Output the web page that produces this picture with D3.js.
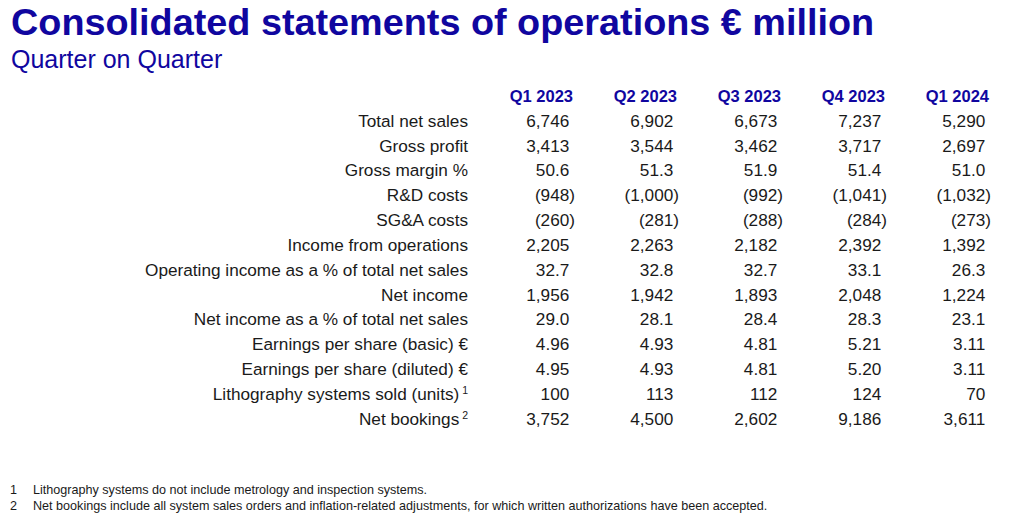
<!DOCTYPE html>
<html>
<head>
<meta charset="utf-8">
<script src="https://cdn.jsdelivr.net/npm/d3@7"></script>
<style>
  body { margin: 0; background: #fff; }
  svg { display: block; font-family: "Liberation Sans", Arial, sans-serif; }
  .title { fill: #10069f; font-weight: bold; font-size: 37.8px; }
  .subtitle { fill: #10069f; font-size: 25px; }
  .head { fill: #10069f; font-weight: bold; font-size: 16.5px; }
  .label, .val { fill: #1a1a1a; font-size: 17.2px; }
  .note { fill: #1a1a1a; font-size: 12.6px; font-family: "Liberation Sans Narrow", "Arial Narrow", sans-serif; }
</style>
</head>
<body>
<svg id="chart" width="1024" height="523"></svg>
<script>
// quarters shown as columns
const quarters = ["Q1 2023", "Q2 2023", "Q3 2023", "Q4 2023", "Q1 2024"];

// row labels, with footnote marks where the slide has them
const rowLabels = [
    "Total net sales",
    "Gross profit",
    "Gross margin %",
    "R&D costs",
    "SG&A costs",
    "Income from operations",
    "Operating income as a % of total net sales",
    "Net income",
    "Net income as a % of total net sales",
    "Earnings per share (basic) €",
    "Earnings per share (diluted) €",
    "Lithography systems sold (units)",
    "Net bookings"
];
const rowNotes = ["", "", "", "", "", "", "", "", "", "", "", "1", "2"];
const rowDecimals = [0, 0, 1, 0, 0, 0, 1, 0, 1, 2, 2, 0, 0];

// one array per quarter, in row order
const q1_2023 = [6746, 3413, 50.6, -948, -260, 2205, 32.7, 1956, 29.0, 4.96, 4.95, 100, 3752];
const q2_2023 = [6902, 3544, 51.3, -1000, -281, 2263, 32.8, 1942, 28.1, 4.93, 4.93, 113, 4500];
const q3_2023 = [6673, 3462, 51.9, -992, -288, 2182, 32.7, 1893, 28.4, 4.81, 4.81, 112, 2602];
const q4_2023 = [7237, 3717, 51.4, -1041, -284, 2392, 33.1, 2048, 28.3, 5.21, 5.20, 124, 9186];
const q1_2024 = [5290, 2697, 51.0, -1032, -273, 1392, 26.3, 1224, 23.1, 3.11, 3.11, 70, 3611];
const quarterValues = [q1_2023, q2_2023, q3_2023, q4_2023, q1_2024];

const footnotes = [
    ["1", "Lithography systems do not include metrology and inspection systems."],
    ["2", "Net bookings include all system sales orders and inflation-related adjustments, for which written authorizations have been accepted."]
];

const svg = d3.select("#chart");

svg.append("text").attr("class", "title")
    .attr("x", 11).attr("y", 35)
    .text("Consolidated statements of operations € million");
svg.append("text").attr("class", "subtitle")
    .attr("x", 11).attr("y", 68)
    .text("Quarter on Quarter");

// columns: right edge of each band is where the closing paren ends
let x = d3.scaleBand()
    .domain(quarters)
    .range([471, 991]);

// rows: header plus data rows
let y = d3.scaleBand()
    .domain(["header"].concat(rowLabels))
    .range([83.5, 431]);

const parenW = 5.7;
const labelRight = 468;

svg.selectAll(".head")
    .data(quarters)
    .enter()
    .append("text")
    .attr("class", "head")
    .attr("x", d => x(d) + x.bandwidth() - 2)
    .attr("y", y("header") + y.bandwidth() / 2)
    .attr("dy", "0.35em")
    .attr("text-anchor", "end")
    .text(d => d);

let labels = svg.selectAll(".label")
    .data(rowLabels)
    .enter()
    .append("text")
    .attr("class", "label")
    .attr("x", labelRight)
    .attr("y", d => y(d) + y.bandwidth() / 2)
    .attr("dy", "0.35em")
    .attr("text-anchor", "end");

labels.append("tspan").text(d => d);
labels.append("tspan")
    .attr("font-size", "10.5px")
    .attr("dy", "-0.55em")
    .text((d, i) => rowNotes[i] ? "\u00a0" + rowNotes[i] : "");

function fmt(v, dec) {
    let s = d3.format(dec ? "." + dec + "f" : ",.0f")(Math.abs(v));
    return v < 0 ? "(" + s : s;
}

quarters.forEach(function (q, qi) {
    let right = x(q) + x.bandwidth();
    let cells = quarterValues[qi].map((v, i) => ({ v: v, row: rowLabels[i], dec: rowDecimals[i] }));

    svg.selectAll(".val-" + qi)
        .data(cells)
        .enter()
        .append("text")
        .attr("class", "val val-" + qi)
        .attr("x", right - parenW)
        .attr("y", d => y(d.row) + y.bandwidth() / 2)
        .attr("dy", "0.35em")
        .attr("text-anchor", "end")
        .text(d => fmt(d.v, d.dec));

    // closing parens hang past the digits
    svg.selectAll(".paren-" + qi)
        .data(cells.filter(d => d.v < 0))
        .enter()
        .append("text")
        .attr("class", "val paren-" + qi)
        .attr("x", right - parenW)
        .attr("y", d => y(d.row) + y.bandwidth() / 2)
        .attr("dy", "0.35em")
        .text(")");
});

let notes = svg.selectAll(".note-row")
    .data(footnotes)
    .enter()
    .append("g")
    .attr("class", "note-row")
    .attr("transform", (d, i) => "translate(0," + (493.5 + i * 16.5) + ")");

notes.append("text").attr("class", "note").attr("x", 10).text(d => d[0]);
notes.append("text").attr("class", "note").attr("x", 33).text(d => d[1]);
</script>
</body>
</html>
